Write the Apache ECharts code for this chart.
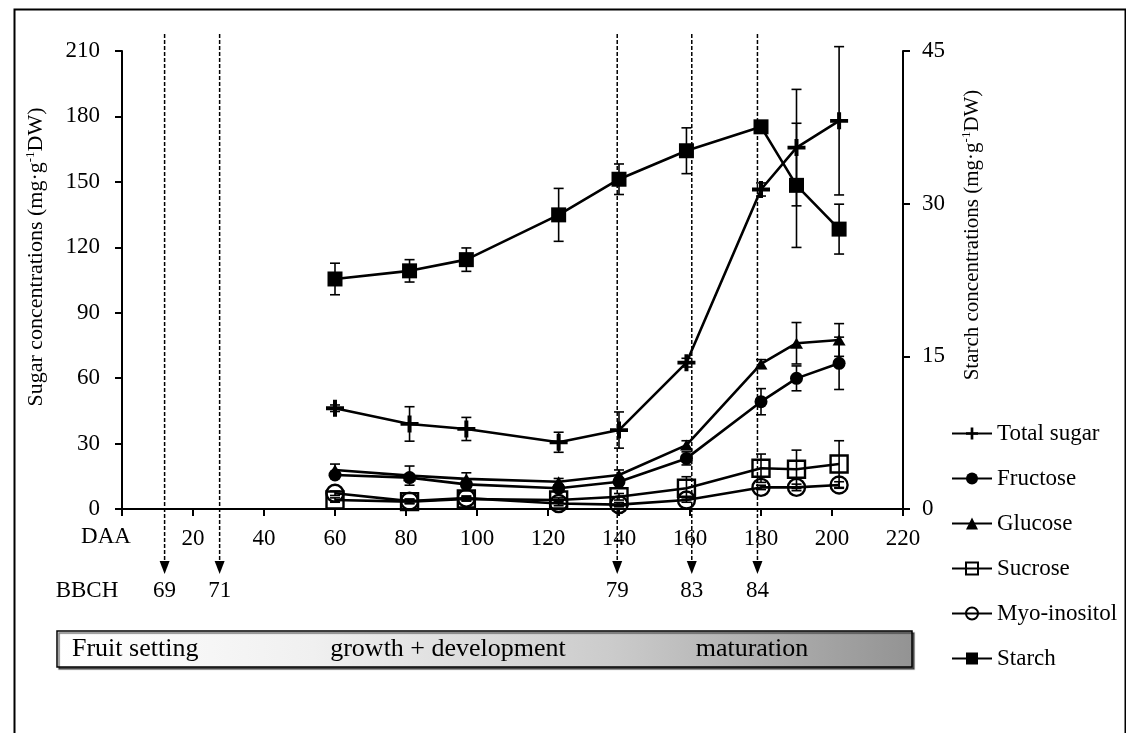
<!DOCTYPE html>
<html>
<head>
<meta charset="utf-8">
<script src="https://cdn.jsdelivr.net/npm/echarts@6/dist/echarts.min.js"></script>
<style>
  html, body { margin: 0; padding: 0; background: #fff; }
  #chart { width: 1126px; height: 733px; }
</style>
</head>
<body>
<div id="chart"></div>
<script>
// Days after anthesis (DAA) of each sampling
const daa = [60, 81, 97, 123, 140, 159, 180, 190, 202];

// Sugars, mg·g-1 DW (left axis) with their error half-widths
const totalSugar    = [46.2, 39.0, 36.7, 30.6, 36.2, 67.1, 146.5, 165.7, 178.0];
const totalSugarErr = [1.5, 7.9, 5.3, 4.6, 8.3, 2.0, 3.0, 26.7, 34.0];
const fructose      = [15.6, 14.4, 11.3, 9.5, 12.5, 23.2, 49.2, 59.9, 66.8];
const fructoseErr   = [1.5, 1.5, 1.5, 1.5, 1.5, 3.0, 6.0, 5.7, 12.0];
const glucose       = [17.9, 15.3, 13.8, 12.5, 15.6, 29.3, 66.5, 76.0, 77.5];
const glucoseErr    = [2.7, 4.4, 2.8, 1.5, 2.3, 2.0, 2.0, 9.5, 7.5];
const sucrose       = [4.1, 3.4, 4.6, 4.1, 5.6, 9.5, 18.7, 18.2, 20.6];
const sucroseErr    = [1.0, 1.0, 1.0, 1.0, 1.5, 5.3, 6.5, 8.8, 10.7];
const myoInositol   = [7.2, 3.6, 5.0, 2.5, 2.0, 4.1, 9.9, 9.9, 11.0];
const myoInositolErr= [1.0, 1.0, 1.0, 1.0, 1.0, 1.0, 1.0, 1.5, 1.5];

// Starch, mg·g-1 DW (right axis)
const starch    = [22.6, 23.4, 24.5, 28.9, 32.4, 35.2, 37.55, 31.8, 27.5];
const starchErr = [1.55, 1.1, 1.15, 2.6, 1.5, 2.25, 0.3, 6.1, 2.45];

// Phenological stages (BBCH) and the DAA at which they occur
const bbchDaa   = [12, 27.5, 139.5, 160.5, 179];
const bbchStage = ['69', '71', '79', '83', '84'];

// Development phases shown in the band under the chart
const phases = ['Fruit setting', 'growth + development', 'maturation'];

const seriesNames = ['Total sugar', 'Fructose', 'Glucose', 'Sucrose', 'Myo-inositol', 'Starch'];

const SERIF = "'Liberation Serif', 'Times New Roman', serif";
const plusPath = 'path://M7,0 H11 V7 H18 V11 H11 V18 H7 V11 H0 V7 H7 Z';

function pairs(vals) { return daa.map((x, i) => [x, vals[i]]); }
function withErr(vals, errs) { return daa.map((x, i) => [x, vals[i], errs[i]]); }

function renderErrorBar(params, api) {
  const x = api.value(0), v = api.value(1), e = api.value(2);
  const hi = api.coord([x, v + e]);
  const lo = api.coord([x, v - e]);
  const w = 5;
  const st = { stroke: '#000', lineWidth: 1.6 };
  return {
    type: 'group',
    children: [
      { type: 'line', shape: { x1: hi[0], y1: hi[1], x2: lo[0], y2: lo[1] }, style: st },
      { type: 'line', shape: { x1: hi[0] - w, y1: hi[1], x2: hi[0] + w, y2: hi[1] }, style: st },
      { type: 'line', shape: { x1: lo[0] - w, y1: lo[1], x2: lo[0] + w, y2: lo[1] }, style: st }
    ]
  };
}

function renderStage(params, api) {
  const x = api.coord([api.value(0), 0])[0];
  return {
    type: 'group',
    children: [
      { type: 'line', shape: { x1: x, y1: 34, x2: x, y2: 563 },
        style: { stroke: '#000', lineWidth: 1.5, lineDash: [4, 2] } },
      { type: 'polygon', shape: { points: [[x - 5, 561], [x + 5, 561], [x, 574]] },
        style: { fill: '#000' } },
      { type: 'text', x: x, y: 591,
        style: { text: bbchStage[params.dataIndex], fill: '#000', font: '23px ' + SERIF,
                 align: 'center', verticalAlign: 'middle' } }
    ]
  };
}

const lineBase = {
  type: 'line',
  xAxisIndex: 0,
  yAxisIndex: 0,
  lineStyle: { color: '#000', width: 2.6 },
  itemStyle: { color: '#000' },
  z: 3
};

const sugarErrData = [].concat(
  withErr(totalSugar, totalSugarErr),
  withErr(fructose, fructoseErr),
  withErr(glucose, glucoseErr),
  withErr(sucrose, sucroseErr),
  withErr(myoInositol, myoInositolErr)
);

const titleRich = {
  a: { fontFamily: SERIF, fontSize: 22, color: '#000', lineHeight: 24 },
  s: { fontFamily: SERIF, fontSize: 13, color: '#000', verticalAlign: 'top', lineHeight: 13 }
};
const titleRichR = {
  a: { fontFamily: SERIF, fontSize: 21, color: '#000', lineHeight: 24 },
  s: { fontFamily: SERIF, fontSize: 13, color: '#000', verticalAlign: 'top', lineHeight: 13 }
};

const option = {
  animation: false,
  backgroundColor: '#fff',
  grid: { left: 122, right: 223, top: 51, bottom: 224 },
  xAxis: {
    type: 'value', min: 0, max: 220, interval: 20,
    axisLine: { lineStyle: { color: '#000', width: 2 } },
    axisTick: { show: true, length: 7, lineStyle: { color: '#000', width: 2 } },
    axisLabel: { color: '#000', fontFamily: SERIF, fontSize: 23, margin: 18,
                 formatter: v => (v === 0 ? '' : String(v)) },
    splitLine: { show: false }
  },
  yAxis: [
    {
      type: 'value', min: 0, max: 210, interval: 30, position: 'left',
      axisLine: { show: true, lineStyle: { color: '#000', width: 2 } },
      axisTick: { show: true, length: 7, lineStyle: { color: '#000', width: 2 } },
      axisLabel: { color: '#000', fontFamily: SERIF, fontSize: 23, margin: 22 },
      splitLine: { show: false }
    },
    {
      type: 'value', min: 0, max: 45, interval: 15, position: 'right',
      axisLine: { show: true, lineStyle: { color: '#000', width: 2 } },
      axisTick: { show: true, length: 7, lineStyle: { color: '#000', width: 2 } },
      axisLabel: { color: '#000', fontFamily: SERIF, fontSize: 23, margin: 19 },
      splitLine: { show: false }
    }
  ],
  legend: {
    orient: 'vertical',
    left: 946,
    top: 417,
    itemWidth: 40,
    itemHeight: 15,
    itemGap: 22,
    data: seriesNames,
    textStyle: { color: '#000', fontFamily: SERIF, fontSize: 23 },
    selectedMode: false
  },
  series: [
    {
      type: 'custom', name: 'stages', clip: false, silent: true, z: 1,
      data: bbchDaa.map(d => [d, 0]),
      renderItem: renderStage
    },
    {
      type: 'custom', name: 'sugarErr', clip: false, silent: true, z: 2,
      yAxisIndex: 0, data: sugarErrData, renderItem: renderErrorBar
    },
    {
      type: 'custom', name: 'starchErr', clip: false, silent: true, z: 2,
      yAxisIndex: 1, data: withErr(starch, starchErr), renderItem: renderErrorBar
    },
    Object.assign({}, lineBase, {
      name: 'Total sugar', data: pairs(totalSugar),
      symbol: plusPath, symbolSize: [18, 17]
    }),
    Object.assign({}, lineBase, {
      name: 'Fructose', data: pairs(fructose),
      symbol: 'circle', symbolSize: 13
    }),
    Object.assign({}, lineBase, {
      name: 'Glucose', data: pairs(glucose),
      symbol: 'triangle', symbolSize: [13, 11]
    }),
    Object.assign({}, lineBase, {
      name: 'Sucrose', data: pairs(sucrose),
      symbol: 'rect', symbolSize: 17,
      itemStyle: { color: 'rgba(0,0,0,0)', borderColor: '#000', borderWidth: 2.4 }
    }),
    Object.assign({}, lineBase, {
      name: 'Myo-inositol', data: pairs(myoInositol),
      symbol: 'circle', symbolSize: 17,
      itemStyle: { color: 'rgba(0,0,0,0)', borderColor: '#000', borderWidth: 2.4 }
    }),
    Object.assign({}, lineBase, {
      name: 'Starch', yAxisIndex: 1, data: pairs(starch),
      symbol: 'rect', symbolSize: 15
    })
  ],
  graphic: [
    // outer frame
    { type: 'rect', left: 12, top: 7, z: 0, silent: true,
      shape: { width: 1111, height: 760 },
      style: { fill: 'none', stroke: '#000', lineWidth: 2 } },
    // axis titles
    { type: 'text', x: 36, y: 257, rotation: Math.PI / 2, silent: true,
      style: { text: '{a|Sugar concentrations (mg·g}{s|-1}{a|DW)}', rich: titleRich,
               align: 'center', verticalAlign: 'middle' } },
    { type: 'text', x: 972, y: 235, rotation: Math.PI / 2, silent: true,
      style: { text: '{a|Starch concentrations (mg·g}{s|-1}{a|DW)}', rich: titleRichR,
               align: 'center', verticalAlign: 'middle' } },
    // row headings
    { type: 'text', x: 106, y: 537, silent: true,
      style: { text: 'DAA', fill: '#000', font: '23px ' + SERIF, align: 'center', verticalAlign: 'middle' } },
    { type: 'text', x: 87, y: 591, silent: true,
      style: { text: 'BBCH', fill: '#000', font: '23px ' + SERIF, align: 'center', verticalAlign: 'middle' } },
    // phase band
    { type: 'rect', x: 57, y: 631, silent: true,
      shape: { width: 855, height: 36 },
      style: {
        fill: new echarts.graphic.LinearGradient(0, 0, 1, 0, [
          { offset: 0, color: '#ffffff' },
          { offset: 0.3, color: '#f0f0f0' },
          { offset: 0.65, color: '#cbcbcb' },
          { offset: 1, color: '#939393' }
        ]),
        stroke: '#000', lineWidth: 1.5,
        shadowColor: 'rgba(0,0,0,0.55)', shadowOffsetX: 2, shadowOffsetY: 2, shadowBlur: 1
      } },
    { type: 'text', x: 72, y: 649, silent: true,
      style: { text: phases[0], fill: '#000', font: '26px ' + SERIF, align: 'left', verticalAlign: 'middle' } },
    { type: 'text', x: 448, y: 649, silent: true,
      style: { text: phases[1], fill: '#000', font: '26px ' + SERIF, align: 'center', verticalAlign: 'middle' } },
    { type: 'text', x: 752, y: 649, silent: true,
      style: { text: phases[2], fill: '#000', font: '26px ' + SERIF, align: 'center', verticalAlign: 'middle' } }
  ]
};

const chart = echarts.init(document.getElementById('chart'), null, { renderer: 'canvas' });
chart.setOption(option);
</script>
</body>
</html>
